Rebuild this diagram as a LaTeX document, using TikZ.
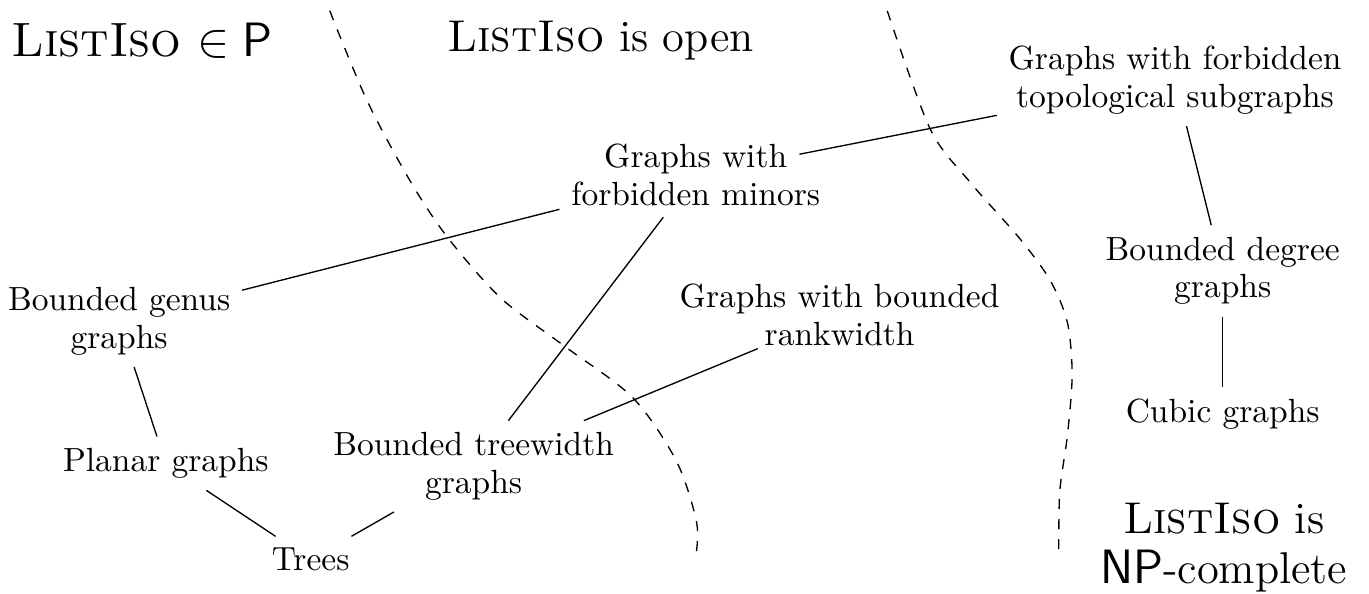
\documentclass[tikz,border=0pt]{standalone}
\usepackage{amsmath}
\usepackage{tikz}
\newcommand{\listiso}{\textsc{ListIso}}

\begin{document}
\begin{tikzpicture}[x=1cm,y=1cm,
	cls/.style={align=center, font=\fontsize{10}{11.2}\selectfont},
	verdict/.style={align=center, font=\fontsize{13.3}{15}\selectfont}]
	\useasboundingbox (0,0) rectangle (14.365,6.233);
	% complexity of the regions
	\node[verdict, font=\Large] (inP) at (1.49,5.81) {\listiso{} $\in \mathsf{P}$};
	\node[verdict] (isopen) at (6.30,5.81) {\listiso{} is open};
	\node[verdict] (npc) at (12.84,0.49) {\listiso{} is\\ $\mathsf{NP}$-complete};
	
	% graph classes
	\node[cls] (topo) at (12.33,5.39) {Graphs with forbidden\\ topological subgraphs};
	\node[cls] (minors) at (7.30,4.40) {Graphs with\\ forbidden minors};
	\node[cls] (genus) at (1.25,2.86) {Bounded genus\\ graphs};
	\node[cls] (rank) at (8.81,2.93) {Graphs with bounded\\ rankwidth};
	\node[cls] (degree) at (12.83,3.39) {Bounded degree\\ graphs};
	\node[cls] (cubic) at (12.83,1.89) {Cubic graphs};
	\node[cls] (planar) at (1.74,1.37) {Planar graphs};
	\node[cls] (treewidth) at (4.97,1.34) {Bounded treewidth\\ graphs};
	\node[cls] (trees) at (3.26,0.36) {Trees};
	
	% inclusions
	\draw[shorten <=1.11cm] (minors.center) -- (topo);
	\draw (minors) -- (genus);
	\draw (minors) -- (treewidth);
	\draw[shorten <=0.93cm] (rank.center) -- (treewidth);
	\draw (topo) -- (degree);
	\draw (degree) -- (cubic);
	\draw (genus) -- (planar);
	\draw (planar) -- (trees);
	\draw (treewidth) -- (trees);
	
	% borders between the regions
	\draw[dashed] plot[smooth] coordinates {(3.46,6.12) (3.85,5.18) (4.30,4.34) (4.69,3.75) (5.25,3.11) (5.91,2.61) (6.64,2.06) (7.10,1.39) (7.31,0.75) (7.30,0.39)};
	\draw[dashed] plot[smooth] coordinates {(9.31,6.12) (9.76,4.88) (10.18,4.32) (10.70,3.73) (11.02,3.29) (11.20,2.85) (11.25,2.30) (11.20,1.66) (11.12,1.07) (11.11,0.38)};
\end{tikzpicture}
\end{document}
